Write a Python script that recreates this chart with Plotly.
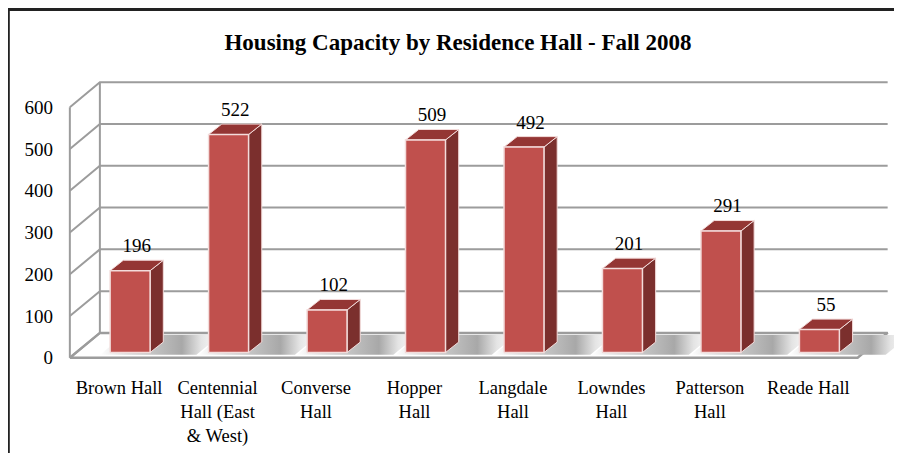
import plotly.graph_objects as go

# ---- data ----
halls = ["Brown Hall", "Centennial<br>Hall (East<br>& West)", "Converse<br>Hall", "Hopper<br>Hall",
         "Langdale<br>Hall", "Lowndes<br>Hall", "Patterson<br>Hall", "Reade Hall"]
capacity = [196, 522, 102, 509, 492, 201, 291, 55]
y_ticks = [0, 100, 200, 300, 400, 500, 600]
title = "Housing Capacity by Residence Hall - Fall 2008"

# ---- styling / pseudo-3D geometry (in axis units) ----
FONT = "Liberation Serif, Times New Roman, serif"
WALL_DX, WALL_DY = 0.305, 59.7        # depth of the back wall
BAR_FX, BAR_FY = 0.112, 12.7          # offset of bar front face from front plane
BAR_W = 0.406
BAR_DX, BAR_DY = 0.134, 25.0          # bar depth
FRONT = "#C0504D"
SIDE = "#7B2F2D"
TOP = "#943634"
EDGE = "#f3dcdb"
GRID = "#9c9c9c"

OFF = 8                                # page body margin
W, H = 902 - OFF, 453 - OFF
XR = [-0.6, 7.9]
YR = [-10, 670]
XPX, YPX = 98.4, 0.4185
ORIGIN = (70 - OFF, 358 - OFF)
ml = ORIGIN[0] - (-0.5 - XR[0]) * XPX
mr = W - (ORIGIN[0] + (XR[1] + 0.5) * XPX)
mb = H - (ORIGIN[1] + (0 - YR[0]) * YPX)
mt = ORIGIN[1] - YR[1] * YPX

n = len(capacity)
xl, xr = -0.5, n - 0.5

fig = go.Figure()

# floor
fig.add_trace(go.Scatter(
    x=[xl, xr, xr + WALL_DX, xl + WALL_DX, xl],
    y=[0, 0, WALL_DY, WALL_DY, 0],
    mode="lines", fill="toself", fillcolor="white",
    line=dict(color=GRID, width=2.5), hoverinfo="skip", showlegend=False))

# floor shadows
for i in range(n):
    t0, t1 = 0.12, 0.92
    a = i + BAR_FX - BAR_W / 2 - 0.14
    b = i + BAR_FX + BAR_W / 2 + BAR_DX + 0.3
    fig.add_trace(go.Scatter(
        x=[a + t0 * WALL_DX, b + t0 * WALL_DX, b + t1 * WALL_DX, a + t1 * WALL_DX, a + t0 * WALL_DX],
        y=[t0 * WALL_DY, t0 * WALL_DY, t1 * WALL_DY, t1 * WALL_DY, t0 * WALL_DY],
        mode="none", fill="toself",
        fillgradient=dict(type="horizontal",
                          colorscale=[[0, "#ffffff"], [0.22, "#dcdcdc"], [0.68, "#a8a8a8"],
                                      [0.84, "#e4e4e4"], [1, "#ffffff"]]),
        hoverinfo="skip", showlegend=False))

# gridlines on left wall and back wall
gx, gy = [], []
for v in y_ticks:
    gx += [xl, xl + WALL_DX, xr + WALL_DX, None]
    gy += [v, v + WALL_DY, v + WALL_DY, None]
gx += [xl, xl, None, xl + WALL_DX, xl + WALL_DX, None]
gy += [0, y_ticks[-1], None, WALL_DY, y_ticks[-1] + WALL_DY, None]
fig.add_trace(go.Scatter(x=gx, y=gy, mode="lines", line=dict(color=GRID, width=2),
                         hoverinfo="skip", showlegend=False))

# bars: side, top and front faces
sx, sy, tx, ty, fx, fy = [], [], [], [], [], []
for i, v in enumerate(capacity):
    x0 = i + BAR_FX - BAR_W / 2
    x1 = i + BAR_FX + BAR_W / 2
    y0 = BAR_FY
    y1 = BAR_FY + v
    sx += [x1, x1 + BAR_DX, x1 + BAR_DX, x1, x1, None]
    sy += [y0, y0 + BAR_DY, y1 + BAR_DY, y1, y0, None]
    tx += [x0, x1, x1 + BAR_DX, x0 + BAR_DX, x0, None]
    ty += [y1, y1, y1 + BAR_DY, y1 + BAR_DY, y1, None]
    fx += [x0, x1, x1, x0, x0, None]
    fy += [y0, y0, y1, y1, y0, None]
for xs, ys, col, w in [(sx, sy, SIDE, 1), (tx, ty, TOP, 1), (fx, fy, FRONT, 1.5)]:
    fig.add_trace(go.Scatter(x=xs, y=ys, mode="lines", fill="toself", fillcolor=col,
                             line=dict(color=EDGE, width=w), hoverinfo="skip", showlegend=False))

# value labels
fig.add_trace(go.Scatter(
    x=[i + BAR_FX + BAR_DX / 2 for i in range(n)],
    y=[v + BAR_FY + BAR_DY + 8 for v in capacity],
    text=[str(v) for v in capacity], mode="text", textposition="top center",
    textfont=dict(family=FONT, size=19, color="black"), cliponaxis=False,
    hoverinfo="skip", showlegend=False))

# outer border
pw = W - ml - mr
ph = H - mt - mb
def px_x(p): return (p - ml) / pw
def px_y(p): return (H - mb - p) / ph
fig.add_shape(type="rect", xref="paper", yref="paper",
              x0=px_x(0), x1=px_x(W + 20), y0=px_y(0.5), y1=px_y(H + 20),
              line=dict(color="#222", width=4), fillcolor="rgba(0,0,0,0)", layer="above")

fig.update_layout(
    width=W, height=H,
    margin=dict(l=ml, r=mr, t=mt, b=mb, pad=0, autoexpand=False),
    paper_bgcolor="white", plot_bgcolor="white",
    title=dict(text="<b>" + title + "</b>", x=(458 - OFF) / W, xref="container", xanchor="center",
               y=1 - (42 - OFF) / H, yref="container", yanchor="middle",
               font=dict(family=FONT, size=23, color="black")),
    xaxis=dict(range=XR, showgrid=False, zeroline=False, showline=False, automargin=False,
               tickvals=list(range(n)), ticktext=halls, ticks="",
               tickfont=dict(family=FONT, size=18.5, color="black"),
               ticklabelstandoff=12, fixedrange=True),
    yaxis=dict(range=YR, showgrid=False, zeroline=False, showline=False, automargin=False,
               tickvals=y_ticks, ticks="",
               tickfont=dict(family=FONT, size=19, color="black"),
               ticklabelstandoff=6, fixedrange=True),
    font=dict(family=FONT),
)

fig.write_html("out.html")
